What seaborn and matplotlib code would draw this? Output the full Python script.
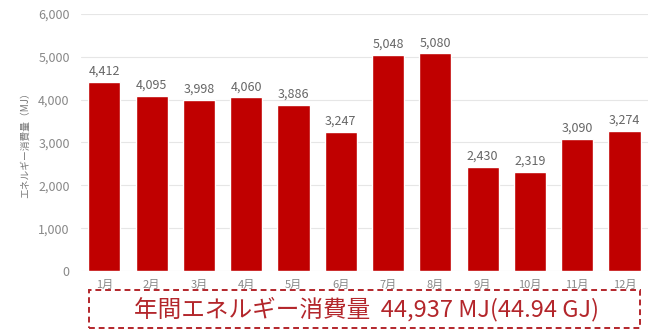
import matplotlib.pyplot as plt
import matplotlib.patches as mpatches
import pandas as pd
import seaborn as sns

months = ['1月', '2月', '3月', '4月', '5月', '6月', '7月', '8月', '9月', '10月', '11月', '12月']
energy = [4412, 4095, 3998, 4060, 3886, 3247, 5048, 5080, 2430, 2319, 3090, 3274]
yticks = [0, 1000, 2000, 3000, 4000, 5000, 6000]
ylabels = ['0', '1,000', '2,000', '3,000', '4,000', '5,000', '6,000']
total_text = '年間エネルギー消費量  44,937 MJ(44.94 GJ)'

sns.set_style('white')
plt.rcParams['font.family'] = ['Noto Sans CJK JP', 'DejaVu Sans']

df = pd.DataFrame({'month': months, 'energy': energy})

fig = plt.figure(figsize=(6.62, 3.31), dpi=100)
ax = fig.add_axes([0.122, 0.181, 0.857, 0.777])
sns.barplot(data=df, x='month', y='energy', color='#c00000', saturation=1,
            width=0.68, ax=ax, zorder=3)

ax.set_ylim(0, 6000)
ax.set_yticks(yticks)
ax.set_yticklabels(ylabels)
ax.grid(axis='y', color='#e6e6e6', lw=0.8, zorder=0)
for s in ax.spines.values():
    s.set_visible(False)
ax.tick_params(axis='y', length=0, labelsize=9, colors='#888888', pad=8)
ax.tick_params(axis='x', length=0, labelsize=8, colors='#888888', pad=6)
ax.set_xlabel('')
ax.set_ylabel('エネルギー消費量（MJ）', fontsize=7, color='#777777', labelpad=6)

for i, v in enumerate(energy):
    ax.text(i, v + 90, f'{v:,}', ha='center', va='bottom', fontsize=9, color='#666666')

# dashed box with annual total
box = mpatches.Rectangle((89 / 662, 0.008), (640 - 89) / 662, 38 / 331,
                         transform=fig.transFigure, fill=False,
                         edgecolor='#b3262b', lw=1.4, ls=(0, (3, 2)))
fig.patches.append(box)
fig.text(367 / 662, 0.008 + 19 / 331, total_text, ha='center', va='center',
         fontsize=17, color='#b3262b')

fig.savefig('out.png', dpi=100)
